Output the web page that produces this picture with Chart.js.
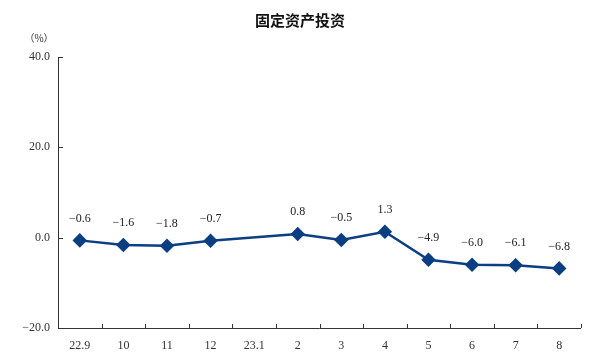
<!DOCTYPE html>
<html><head><meta charset="utf-8">
<script src="https://cdn.jsdelivr.net/npm/chart.js@4/dist/chart.umd.min.js"></script>
<style>html,body{margin:0;padding:0;background:#fff}#wrap{width:600px;height:361px}</style>
</head><body><div id="wrap"><canvas id="c" width="600" height="361"></canvas></div>
<script>
const categories = ["22.9","10","11","12","23.1","2","3","4","5","6","7","8"];
const values = [-0.6,-1.6,-1.8,-0.7,null,0.8,-0.5,1.3,-4.9,-6.0,-6.1,-6.8];
const yTicks = [-20,0,20,40];
const titleText = "固定资产投资";
const unitText = "（%）";

const numFont = "'Liberation Serif','DejaVu Serif',serif";
const lineColor = "#0b3e82";

const decor = {
  id: 'decor',
  afterDraw(chart) {
    const ctx = chart.ctx;
    const x = chart.scales.x, y = chart.scales.y;
    const ca = chart.chartArea;
    ctx.save();
    ctx.strokeStyle = '#333';
    ctx.lineWidth = 1;
    ctx.beginPath();
    ctx.moveTo(ca.left + 0.5, y.getPixelForValue(40));
    ctx.lineTo(ca.left + 0.5, ca.bottom + 0.5);
    ctx.lineTo(ca.right, ca.bottom + 0.5);
    ctx.stroke();
    yTicks.forEach(v => {
      const py = Math.round(y.getPixelForValue(v)) + 0.5;
      ctx.beginPath(); ctx.moveTo(ca.left, py); ctx.lineTo(ca.left + 5, py); ctx.stroke();
    });
    const n = categories.length;
    for (let i = 1; i <= n; i++) {
      const a = x.getPixelForValue(i - 1);
      const b = i < n ? x.getPixelForValue(i) : 2 * a - x.getPixelForValue(i - 2);
      const px = Math.round((a + b) / 2) + 0.5;
      ctx.beginPath(); ctx.moveTo(px, ca.bottom); ctx.lineTo(px, ca.bottom - 4); ctx.stroke();
    }
    ctx.fillStyle = '#333';
    ctx.font = "10px 'Noto Sans CJK SC'";
    ctx.textAlign = 'center'; ctx.textBaseline = 'middle';
    ctx.fillText(unitText, 39, 38);
    ctx.font = "12px " + numFont;
    ctx.fillStyle = '#222';
    const meta = chart.getDatasetMeta(0);
    meta.data.forEach((pt, i) => {
      if (values[i] === null) return;
      ctx.fillText(values[i].toFixed(1).replace('-', '−'), pt.x, pt.y - 22);
    });
    ctx.restore();
  }
};

new Chart(document.getElementById('c'), {
  type: 'line',
  data: {
    labels: categories,
    datasets: [{
      data: values,
      borderColor: lineColor,
      backgroundColor: lineColor,
      borderWidth: 2.5,
      pointStyle: 'rectRot',
      pointRadius: 5.5,
      pointHoverRadius: 5.5,
      spanGaps: true,
      tension: 0
    }]
  },
  options: {
    responsive: false,
    animation: false,
    layout: { padding: { left: 19, right: 19, top: 0, bottom: 0 } },
    plugins: {
      legend: { display: false },
      tooltip: { enabled: false },
      title: {
        display: true, text: titleText, color: '#111',
        font: { family: "'Noto Sans CJK SC'", size: 15, weight: 'bold' },
        padding: { top: 11, bottom: 28 }
      }
    },
    scales: {
      x: {
        offset: true,
        grid: { display: false },
        border: { display: false },
        ticks: { color: '#333', font: { family: numFont, size: 12 }, padding: 3, maxRotation: 0, autoSkip: false },
        afterFit(s) { s.height = 33; }
      },
      y: {
        min: -20, max: 40,
        afterBuildTicks(s) { s.ticks = yTicks.map(v => ({ value: v })); },
        grid: { display: false },
        border: { display: false },
        ticks: { color: '#333', font: { family: numFont, size: 12 }, padding: 0,
          callback: v => v.toFixed(1).replace('-', '−') },
        afterFit(s) { s.width = 39; }
      }
    }
  },
  plugins: [decor]
});
</script></body></html>
